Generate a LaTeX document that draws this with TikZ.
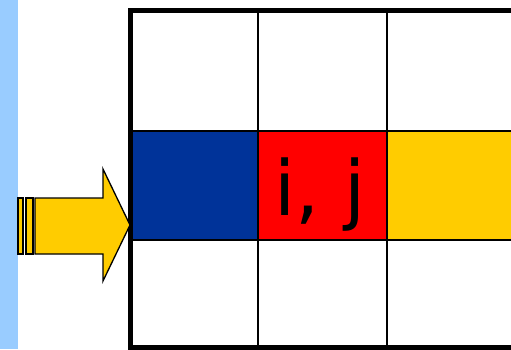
\documentclass[tikz,border=0pt]{standalone}
\usepackage{fontspec}
\setsansfont{DejaVu Sans}
\usetikzlibrary{positioning}
\definecolor{StripBlue}{HTML}{99CCFF}
\definecolor{CellBlue}{HTML}{003399}
\definecolor{CellRed}{HTML}{FF0000}
\definecolor{CellYellow}{HTML}{FFCC00}
\begin{document}
\begin{tikzpicture}[x=1pt,y=-1pt,
  gridline/.style={draw=black,line width=2pt},
  frame/.style={draw=black,line width=5pt},
  arrowpart/.style={draw=black,fill=CellYellow,line width=1.3pt,line join=miter}
]
\useasboundingbox (0,0) rectangle (511,349);
\fill[StripBlue] (0,0) rectangle (18,349);
\begin{scope}
  \clip (0,0) rectangle (511,349);
  % coloured row
  \fill[CellBlue] (130,131) rectangle (258,240);
  \fill[CellRed] (258,131) rectangle (387,240);
  \fill[CellYellow] (387,131) rectangle (520,240);
  % inner grid lines
  \foreach \gx in {258,387} \draw[gridline] (\gx,10) -- (\gx,347);
  \foreach \gy in {131,240} \draw[gridline] (130,\gy) -- (520,\gy);
  % outer frame
  \draw[frame] (520,10) -- (130,10) -- (130,347) -- (520,347);
\end{scope}
\node[anchor=base,font=\sffamily\fontsize{76}{76}\selectfont,inner sep=0pt] (ij) at (320,215) {i, j};
% arrow into the row
\coordinate (tip) at (130,225);
\draw[arrowpart] (18,198) rectangle (23,254);
\draw[arrowpart] (26,198) rectangle (33,254);
\draw[arrowpart] (35,198) -- (103,198) -- (103,169) -- (tip) -- (103,281) -- (103,254) -- (35,254) -- cycle;
\end{tikzpicture}
\end{document}
